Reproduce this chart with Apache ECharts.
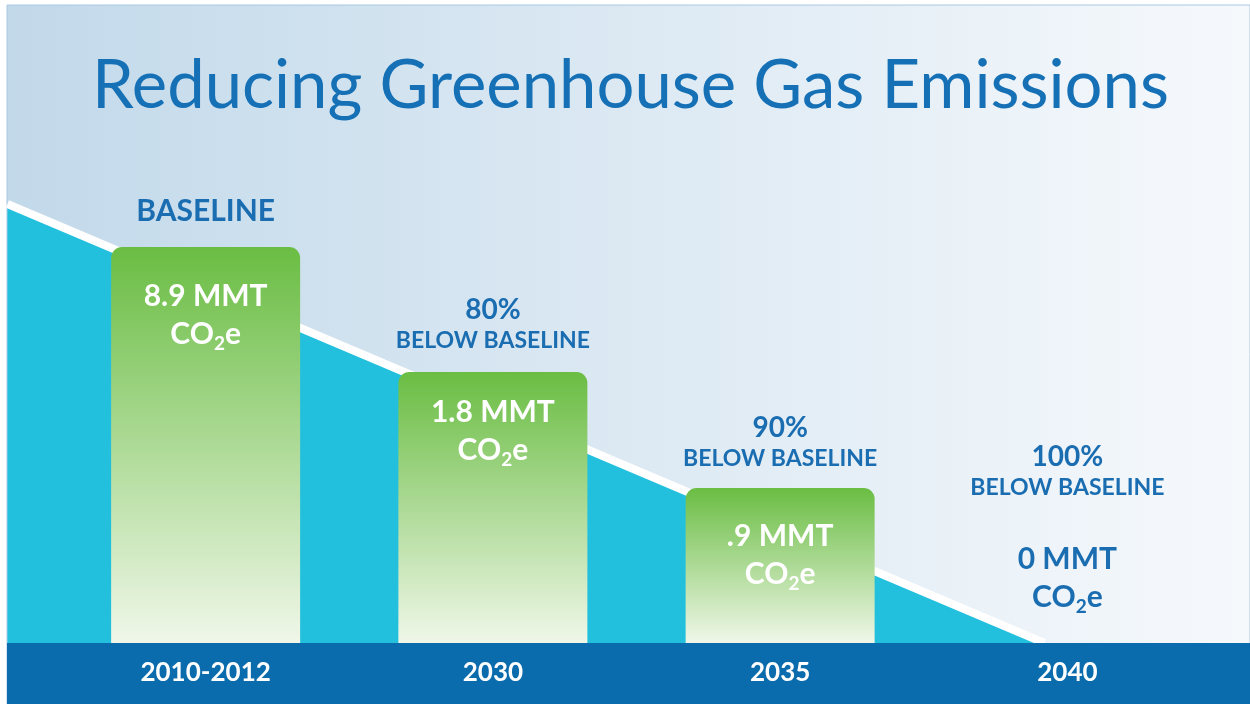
<!DOCTYPE html>
<html>
<head>
<meta charset="utf-8">
<title>Reducing Greenhouse Gas Emissions</title>
<script src="https://cdn.jsdelivr.net/npm/echarts/dist/echarts.min.js"></script>
<style>
    html, body { margin: 0; padding: 0; background: #fff; }
    #main { width: 1250px; height: 704px; }
</style>
</head>
<body>
<div id="main"></div>
<script>
var categories = ['2010-2012', '2030', '2035', '2040'];
var emissionsMMT = ['8.9', '1.8', '.9', '0'];      // MMT CO2e
var belowBaseline = ['', '80%', '90%', '100%'];
// heights as drawn in the graphic (share of plot height), not to scale
var barHeights = [79.2, 54.2, 31, 0];
// diagonal backdrop, x in category-index units
var trendX = [-0.69, 2.92];
var trendY = [87.8, 0];

var blue = '#1a6db1';
var valueDist = [30, 21, 29, 27];   //数值标签距离
var noteDist = [21, 18, 16, 142];   //上方说明距离

var myChart = echarts.init(document.getElementById('main'));

var option = {
    animation: false,
    textStyle: { fontFamily: 'Lato' },
    title: {
        text: 'Reducing Greenhouse Gas Emissions',
        left: 87,
        top: 48,
        textStyle: {
            fontFamily: 'Lato',
            fontSize: 67,
            fontWeight: 'normal',
            color: '#1570b5'
        }
    },
    graphic: [
        {
            type: 'rect',
            z: -10,
            shape: { x: 7, y: 5, width: 1243, height: 699 },
            style: {
                fill: new echarts.graphic.LinearGradient(0, 0, 1, 0, [
                    { offset: 0, color: '#c2d9ea' },
                    { offset: 0.5, color: '#dce9f3' },
                    { offset: 1, color: '#f6f9fc' }
                ]),
                stroke: '#a9c8e3',
                lineWidth: 1
            }
        },
        {
            type: 'rect',
            z: 10,
            shape: { x: 7, y: 643, width: 1243, height: 61 },
            style: { fill: '#0b6cad' }
        }
    ],
    grid: [
        { left: 62, right: 39, top: 143, bottom: 61 },
        // 斜坡用，全宽
        { left: 7, right: 0, top: 143, bottom: 61 }
    ],
    xAxis: [{
        type: 'category',
        data: categories,
        gridIndex: 0,
        z: 20,
        axisLine: { show: false },
        axisTick: { show: false },
        axisLabel: {
            color: '#fff',
            fontSize: 26,
            fontWeight: 'bold',
            margin: 17
        }
    }, {
        type: 'value',
        gridIndex: 1,
        min: -0.6915,
        max: 3.6358,
        show: false
    }],
    yAxis: [{
        type: 'value',
        gridIndex: 0,
        min: 0,
        max: 100,
        show: false
    }, {
        type: 'value',
        gridIndex: 1,
        min: 0,
        max: 100,
        show: false
    }],
    series: [{
        // 青色斜坡背景
        type: 'line',
        xAxisIndex: 1,
        yAxisIndex: 1,
        silent: true,
        z: 1,
        symbol: 'none',
        data: trendX.map(function (x, i) { return [x, trendY[i]]; }),
        lineStyle: { color: '#fff', width: 8 },
        areaStyle: { color: '#22c0dd', opacity: 1 }
    }, {
        type: 'bar',
        barWidth: 189,
        z: 3,
        itemStyle: {
            borderRadius: [11, 11, 0, 0],
            color: new echarts.graphic.LinearGradient(0, 0, 0, 1, [
                { offset: 0, color: '#6abd43' },
                { offset: 1, color: '#f0f7e9' }
            ])
        },
        data: barHeights.map(function (h, i) {
            return {
                value: h,
                label: { position: h > 0 ? 'insideTop' : 'top', distance: valueDist[i] }
            };
        }),
        label: {
            show: true,
            formatter: function (p) {
                var k = barHeights[p.dataIndex] > 0 ? '' : 'b';
                return '{v' + k + '|' + emissionsMMT[p.dataIndex] + ' MMT}\n' +
                    '{v' + k + '|CO}{s' + k + '|2}{v' + k + '|e}';
            },
            rich: {
                v: { color: '#fff', fontSize: 30, fontWeight: 'bold', lineHeight: 38, verticalAlign: 'middle' },
                s: { color: '#fff', fontSize: 19, fontWeight: 'bold', lineHeight: 16, verticalAlign: 'bottom' },
                vb: { color: blue, fontSize: 30, fontWeight: 'bold', lineHeight: 38, verticalAlign: 'middle' },
                sb: { color: blue, fontSize: 19, fontWeight: 'bold', lineHeight: 16, verticalAlign: 'bottom' }
            }
        }
    }, {
        // 柱上方说明文字
        type: 'bar',
        barWidth: 189,
        barGap: '-100%',
        silent: true,
        z: 4,
        itemStyle: { color: 'rgba(0,0,0,0)' },
        data: barHeights.map(function (h, i) {
            return { value: h, label: { distance: noteDist[i] } };
        }),
        label: {
            show: true,
            position: 'top',
            formatter: function (p) {
                var pct = belowBaseline[p.dataIndex];
                if (!pct) {
                    return '{b|BASELINE}';
                }
                return '{p|' + pct + '}\n{t|BELOW BASELINE}';
            },
            rich: {
                b: { color: blue, fontSize: 30, fontWeight: 'bold', lineHeight: 30 },
                p: { color: blue, fontSize: 28, fontWeight: 'bold', lineHeight: 36 },
                t: { color: blue, fontSize: 23, fontWeight: 'bold', lineHeight: 26 }
            }
        }
    }]
};
myChart.setOption(option);
window.onresize = myChart.resize;
</script>
</body>
</html>
